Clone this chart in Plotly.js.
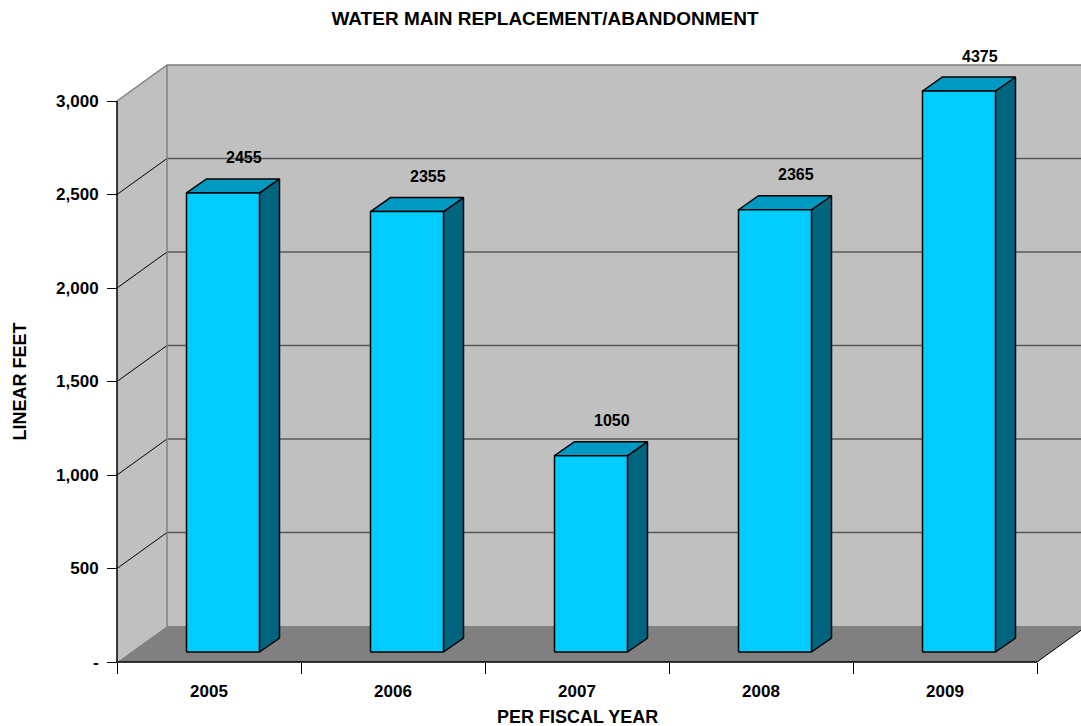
<!DOCTYPE html>
<html>
<head>
<meta charset="utf-8">
<script src="https://cdn.plot.ly/plotly-3.0.1.min.js"></script>
<style>html,body{margin:0;padding:0;background:#fff;}#chart{width:1081px;height:726px;}</style>
</head>
<body>
<div id="chart"></div>
<script>
// ---- data ----
const years = ["2005", "2006", "2007", "2008", "2009"];
const linearFeet = [2455, 2355, 1050, 2365, 4375];
const yTickVals = [0, 500, 1000, 1500, 2000, 2500, 3000];
const yTickText = ["-", "500", "1,000", "1,500", "2,000", "2,500", "3,000"];
const yMax = 3000;

// ---- geometry (pixels -> data units) ----
const W = 1081, H = 726;
const mL = 100, mR = 0, mT = 36, mB = 56;
const plotW = W - mL - mR, plotH = H - mT - mB;
const SX = 184;            // px per category
const SY = 561 / yMax;     // px per value unit
const axisLeftPx = 17;     // front y axis offset inside plot area
const axisBottomPx = 8;    // front x axis offset above plot bottom
const xMin = -0.5 - axisLeftPx / SX;
const xMaxR = xMin + plotW / SX;
const yMinR = -axisBottomPx / SY;
const yMaxR = yMinR + plotH / SY;

const DX = 50 / SX, DY = 36 / SY;          // wall depth
const FX = 14 / SX, FY = 10 / SY;          // bar front plane offset
const HW = 36.5 / SX;                      // bar half width
const BDX = 20 / SX, BDY = 14 / SY;        // bar depth
const LBL = 35 / SY;                       // label lift

const L = -0.5, R = years.length - 0.5, T = yMax;
const FONT = "Liberation Sans, Arial, sans-serif";

const traces = [];
function poly(xs, ys, fill, lineColor, lw) {
  traces.push({type: "scatter", mode: "lines", x: xs, y: ys, fill: "toself",
    fillcolor: fill, line: {color: lineColor, width: lw}, hoverinfo: "skip", showlegend: false});
}
function line(xs, ys, color, lw) {
  traces.push({type: "scatter", mode: "lines", x: xs, y: ys,
    line: {color: color, width: lw}, hoverinfo: "skip", showlegend: false});
}

// walls
poly([L + DX, R + DX + 1, R + DX + 1, L + DX, L + DX], [DY, DY, T + DY, T + DY, DY], "#C0C0C0", "rgba(0,0,0,0)", 0);
poly([L, L + DX, L + DX, L, L], [0, DY, T + DY, T, 0], "#C0C0C0", "rgba(0,0,0,0)", 0);
// floor
poly([L, R, R + DX, L + DX, L], [0, 0, DY, DY, 0], "#808080", "rgba(0,0,0,0)", 0);

// gridlines
yTickVals.forEach(v => {
  if (v <= 0 || v >= yMax) return;
  line([L, L + DX], [v, v + DY], "#000000", 1);
  line([L + DX, R + DX + 1], [v + DY, v + DY], "#5a5a5a", 1.5);
});
// wall edges
line([L + DX, L + DX], [DY, T + DY], "#808080", 1.5);
line([L, L + DX, R + DX + 1], [T, T + DY, T + DY], "#808080", 1.5);
line([R, R + DX], [0, DY], "#000000", 1);
// front axis lines
line([L, L], [0, T], "#000000", 1.5);
line([L, R], [0, 0], "#000000", 1.5);

// bars
const annotations = [];
linearFeet.forEach((val, i) => {
  const v = Math.min(val, yMax);
  const x0 = i + FX - HW, x1 = i + FX + HW;
  const y0 = FY, y1 = FY + v;
  poly([x1, x1, x1 + BDX, x1 + BDX, x1], [y0, y1, y1 + BDY, y0 + BDY, y0], "#006680", "#000000", 1.5);
  poly([x0, x1, x1 + BDX, x0 + BDX, x0], [y1, y1, y1 + BDY, y1 + BDY, y1], "#0099C2", "#000000", 1.5);
  poly([x0, x1, x1, x0, x0], [y0, y0, y1, y1, y0], "#00CCFF", "#000000", 1.5);
  annotations.push({x: i + 35 / SX, y: y1 + LBL, xref: "x", yref: "y", text: String(val),
    showarrow: false, xanchor: "center", yanchor: "middle",
    font: {family: FONT, size: 16, color: "#000", weight: "bold"}});
});

annotations.push({x: (L + R) / 2, xref: "x", y: (H - mB - 717) / plotH, yref: "paper",
  text: "PER FISCAL YEAR", showarrow: false, xanchor: "center", yanchor: "middle",
  font: {family: FONT, size: 18, color: "#000", weight: "bold"}});
annotations.push({x: (19 - mL) / plotW, xref: "paper",
  y: yMax / 2, yref: "y", text: "LINEAR FEET", textangle: -90, showarrow: false,
  xanchor: "center", yanchor: "middle",
  font: {family: FONT, size: 18, color: "#000", weight: "bold"}});

const axisPosY = axisBottomPx / plotH;
const layout = {
  width: W, height: H,
  margin: {l: mL, r: mR, t: mT, b: mB, pad: 0},
  paper_bgcolor: "#FFFFFF", plot_bgcolor: "#FFFFFF",
  showlegend: false,
  title: {text: "WATER MAIN REPLACEMENT/ABANDONMENT", x: (545 - mL) / plotW, xref: "paper",
    xanchor: "center", y: 1 - 18 / H, yref: "container", yanchor: "middle",
    font: {family: FONT, size: 19, color: "#000", weight: "bold"}},
  xaxis: {range: [xMin, xMaxR], anchor: "free", position: axisPosY, showgrid: false, zeroline: false,
    showline: false, tickmode: "array", tickvals: years.map((_, i) => i), ticktext: years,
    ticks: "outside", ticklen: 14, tickcolor: "rgba(0,0,0,0)",
    tickfont: {family: FONT, size: 17, color: "#000", weight: "bold"}, fixedrange: true},
  xaxis2: {range: [xMin, xMaxR], overlaying: "x", anchor: "free", position: axisPosY, side: "bottom",
    showgrid: false, zeroline: false, showline: false, tickmode: "array",
    tickvals: years.map((_, i) => i - 0.5).concat([R]), ticks: "outside", ticklen: 11,
    tickcolor: "#000", tickwidth: 1, showticklabels: false, fixedrange: true},
  yaxis: {range: [yMinR, yMaxR], anchor: "free", position: axisLeftPx / plotW, showgrid: false,
    zeroline: false, showline: false, tickmode: "array", tickvals: yTickVals, ticktext: yTickText,
    ticks: "outside", ticklen: 10, tickcolor: "#000", tickwidth: 1, ticklabelstandoff: 5,
    tickfont: {family: FONT, size: 17, color: "#000", weight: "bold"}, fixedrange: true},
  annotations: annotations
};
traces.push({type: "scatter", x: [0], y: [0], xaxis: "x2", mode: "markers", marker: {opacity: 0}, hoverinfo: "skip", showlegend: false});
Plotly.newPlot("chart", traces, layout, {displayModeBar: false, staticPlot: true});
</script>
</body>
</html>
